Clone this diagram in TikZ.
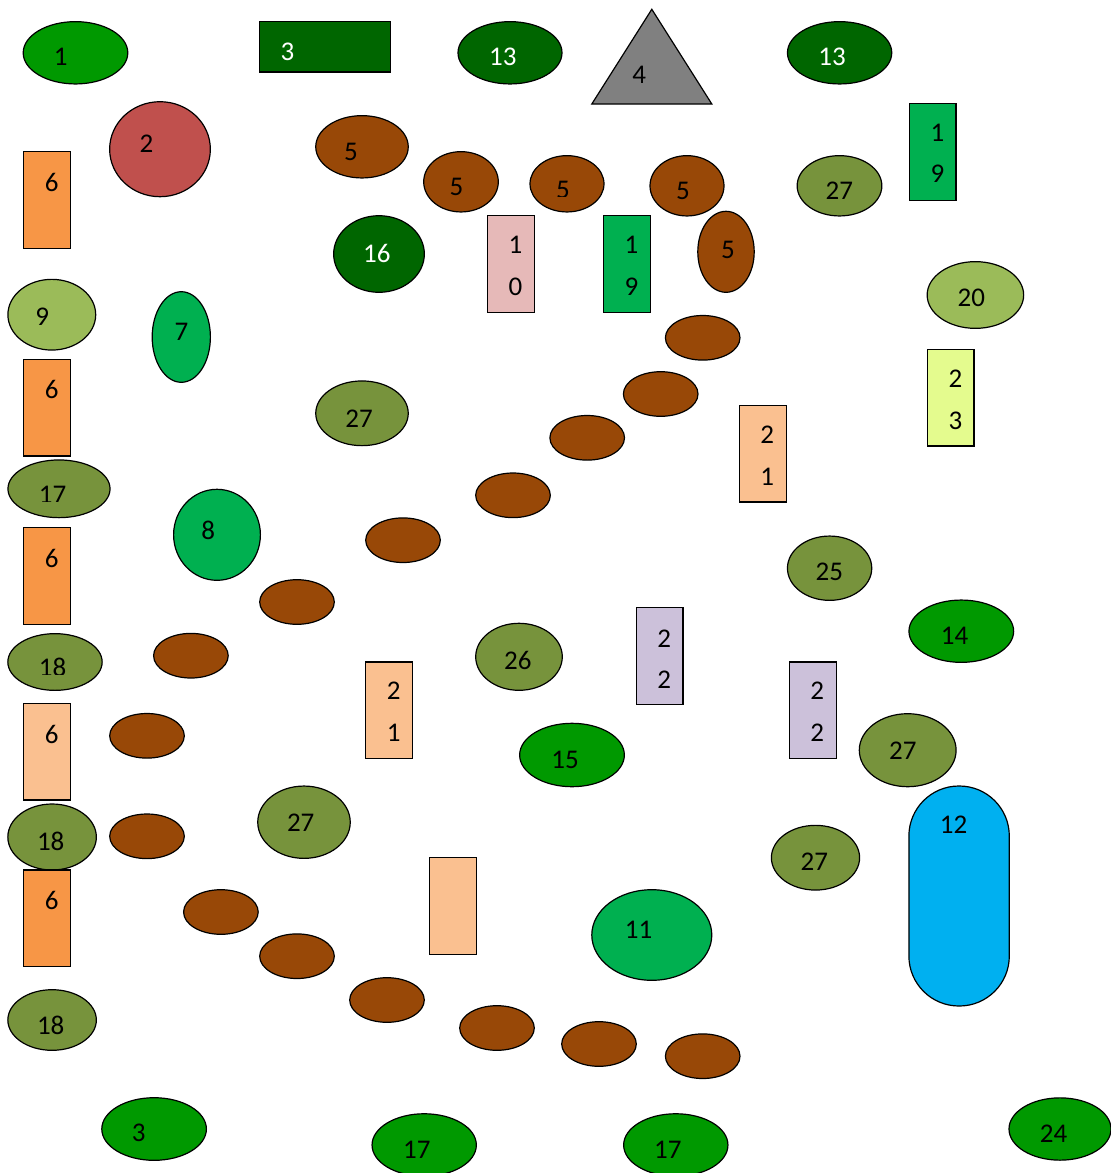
\documentclass[tikz,border=0pt]{standalone}
\usepackage{fontspec}
\setmainfont{Carlito}
\usetikzlibrary{shapes.geometric}
\definecolor{shGreen}{HTML}{009900}
\definecolor{shDeep}{HTML}{006600}
\definecolor{shMint}{HTML}{00B050}
\definecolor{shOlive}{HTML}{77933C}
\definecolor{shLeaf}{HTML}{9BBB59}
\definecolor{shBrown}{HTML}{984807}
\definecolor{shOrange}{HTML}{F79646}
\definecolor{shPeach}{HTML}{FAC090}
\definecolor{shRose}{HTML}{E6B9B8}
\definecolor{shRed}{HTML}{C0504D}
\definecolor{shLilac}{HTML}{CCC1DA}
\definecolor{shLime}{HTML}{E4FB8E}
\definecolor{shSky}{HTML}{00B0F0}
\definecolor{shGrey}{HTML}{808080}

\begin{document}
\begin{tikzpicture}[x=1pt, y=-1pt,
    blob/.style={ellipse, draw=black, line width=1.2pt, inner sep=0pt},
    tile/.style={rectangle, draw=black, line width=1.2pt, inner sep=0pt,
                 minimum width=46.8pt, minimum height=96.5pt},
    num/.style={inner sep=0pt, font=\fontsize{27}{32}\selectfont}]
  \clip (0,0) rectangle (1111,1173);

  % ellipses and circles
  \foreach \n/\c/\x/\y/\w/\h in {
    one/shGreen/75.5/52.8/104.6/62.3,
    thirteenA/shDeep/510/52.8/104/62.3,
    thirteenB/shDeep/839.6/52.8/104.3/62.3,
    two/shRed/160/149.2/100.7/95,
    fiveA/shBrown/362/146.8/92.5/62.3,
    fiveB/shBrown/461/181.8/74.6/60.3,
    fiveC/shBrown/567/183.8/74/56.3,
    fiveD/shBrown/687/185.8/74/60.3,
    fiveE/shBrown/726/251.8/56.4/81,
    sixteen/shDeep/379/254/90.7/76.6,
    twentysevenA/shOlive/839.5/185.8/84.7/60.3,
    nine/shLeaf/51.8/314.7/87.8/70.7,
    seven/shMint/181.3/337/58.2/90.6,
    twenty/shLeaf/975.4/295/96.5/66.7,
    twentysevenB/shOlive/362/413.3/92.5/64.7,
    seventeenL/shOlive/59/488.8/102.1/57.7,
    eight/shMint/217/534.8/86.8/91,
    twentyfive/shOlive/829.6/568.2/84.3/64.3,
    eighteenA/shOlive/55/662/94.3/56.7,
    twentysix/shOlive/519/656.8/86.6/67,
    fourteen/shGreen/961.3/631.2/104.7/62.3,
    fifteen/shGreen/572/755/104.7/63.4,
    twentysevenC/shOlive/907.7/750.2/96.8/73,
    eighteenB/shOlive/52.1/837/88.5/66,
    twentysevenD/shOlive/304/822.2/92.5/72.3,
    twentysevenE/shOlive/815.5/857.7/88.2/64.7,
    eleven/shMint/651.8/935/120/90.6,
    eighteenC/shOlive/52.1/1020/88.5/60.6,
    threeB/shGreen/154.1/1129/104.6/62.6,
    seventeenA/shGreen/424.2/1145/104.3/62.5,
    seventeenB/shGreen/675.8/1145/104.3/62.5,
    twentyfour/shGreen/1060/1129/102/62.3
  } {
    \node[blob, fill=\c, minimum width=\w pt, minimum height=\h pt] (\n) at (\x,\y) {};
  }

  % unlabelled brown pebbles
  \foreach \x/\y [count=\i] in {
    702.7/337.8, 660.7/394, 587.2/437.8, 513/495.3, 403/540.2,
    297/602, 190.9/655.7, 147/735.8, 147/836.3, 220.9/912,
    297/956.2, 387/1000, 497/1028, 599/1044, 702.7/1056.2
  } {
    \node[blob, fill=shBrown, minimum width=74.6pt, minimum height=44.6pt] (pebble\i) at (\x,\y) {};
  }

  % rectangles
  \node[tile, fill=shDeep, minimum width=131.4pt, minimum height=50.3pt] (threeA) at (325,46.8) {};
  \foreach \n/\c/\x/\y in {
    sixA/shOrange/46.8/200, sixB/shOrange/46.8/407.7, sixC/shOrange/46.8/576,
    sixD/shPeach/46.8/751.8, sixE/shOrange/46.8/918.3,
    ten/shRose/511.2/264, nineteenA/shMint/932.6/152, nineteenB/shMint/627/264,
    twentythree/shLime/950.5/397.8, twentyoneA/shPeach/388.9/710.2,
    twentyoneB/shPeach/762.7/453.8, twentytwoA/shLilac/659.5/656,
    twentytwoB/shLilac/812.7/710.2, blank/shPeach/453.2/906
  } {
    \node[tile, fill=\c] (\n) at (\x,\y) {};
  }
  \node[tile, fill=shSky, rounded corners=50pt, minimum width=100.4pt,
        minimum height=220pt] (twelve) at (959.1,896) {};
  \draw[line width=1.2pt, fill=shGrey] (651.8,9.3) -- (711.8,104) -- (591.8,104) -- cycle;

  % labels
  \foreach \x/\y/\t [count=\i] in {
    60.7/57/1, 146.4/143.3/2, 351/151.7/5, 456.4/186.7/5, 682.9/190.7/5,
    727.9/250/5, 51.8/182.3/6, 51.8/389.5/6, 51.8/558.3/6, 51.8/734.3/6,
    51.8/900/6, 515.4/245/1, 515.4/286.7/0, 631.4/245/1, 631.4/286.7/9,
    937.5/133.3/1, 937.5/174/9, 42.1/316.7/9, 181.4/331.7/7, 639.3/75/4,
    839.3/190.7/27, 971.4/297.7/20, 955.4/379/2, 955.4/421/3, 359/418.3/27,
    208.2/530/8, 517.9/660/26, 393.6/690.7/2, 393.6/732.7/1, 767.1/435/2,
    767.1/476.7/1, 829.3/571.7/25, 954.6/636/14, 664.3/638.3/2, 664.3/679.3/2,
    817.1/690.7/2, 817.1/732.7/2, 902.9/750.7/27, 565/760/15, 50.7/841/18,
    300.7/822.3/27, 814.3/861.7/27, 638.6/930/11, 953.6/825/12, 50.7/1025/18,
    138.6/1133.3/3, 416.8/1150/17, 667.9/1150/17, 1053.6/1133.3/24
  } {
    \node[num] (lbl\i) at (\x,\y) {\t};
  }
  \foreach \x/\y/\t [count=\i] in {
    287.5/51.7/3, 502.9/56.7/13, 832.1/56.7/13, 376.8/253.3/16
  } {
    \node[num, text=white] (wlbl\i) at (\x,\y) {\t};
  }

  % labels cut off at the bottom
  \begin{scope}
    \clip (540,170) rectangle (590,196.7);
    \node[num] (cutA) at (563,190) {5};
  \end{scope}
  \begin{scope}
    \clip (20,470) rectangle (90,501.7);
    \node[num] (cutB) at (52.5,494.5) {17};
  \end{scope}
  \begin{scope}
    \clip (20,640) rectangle (90,674);
    \node[num] (cutC) at (52.5,667) {18};
  \end{scope}
\end{tikzpicture}
\end{document}
